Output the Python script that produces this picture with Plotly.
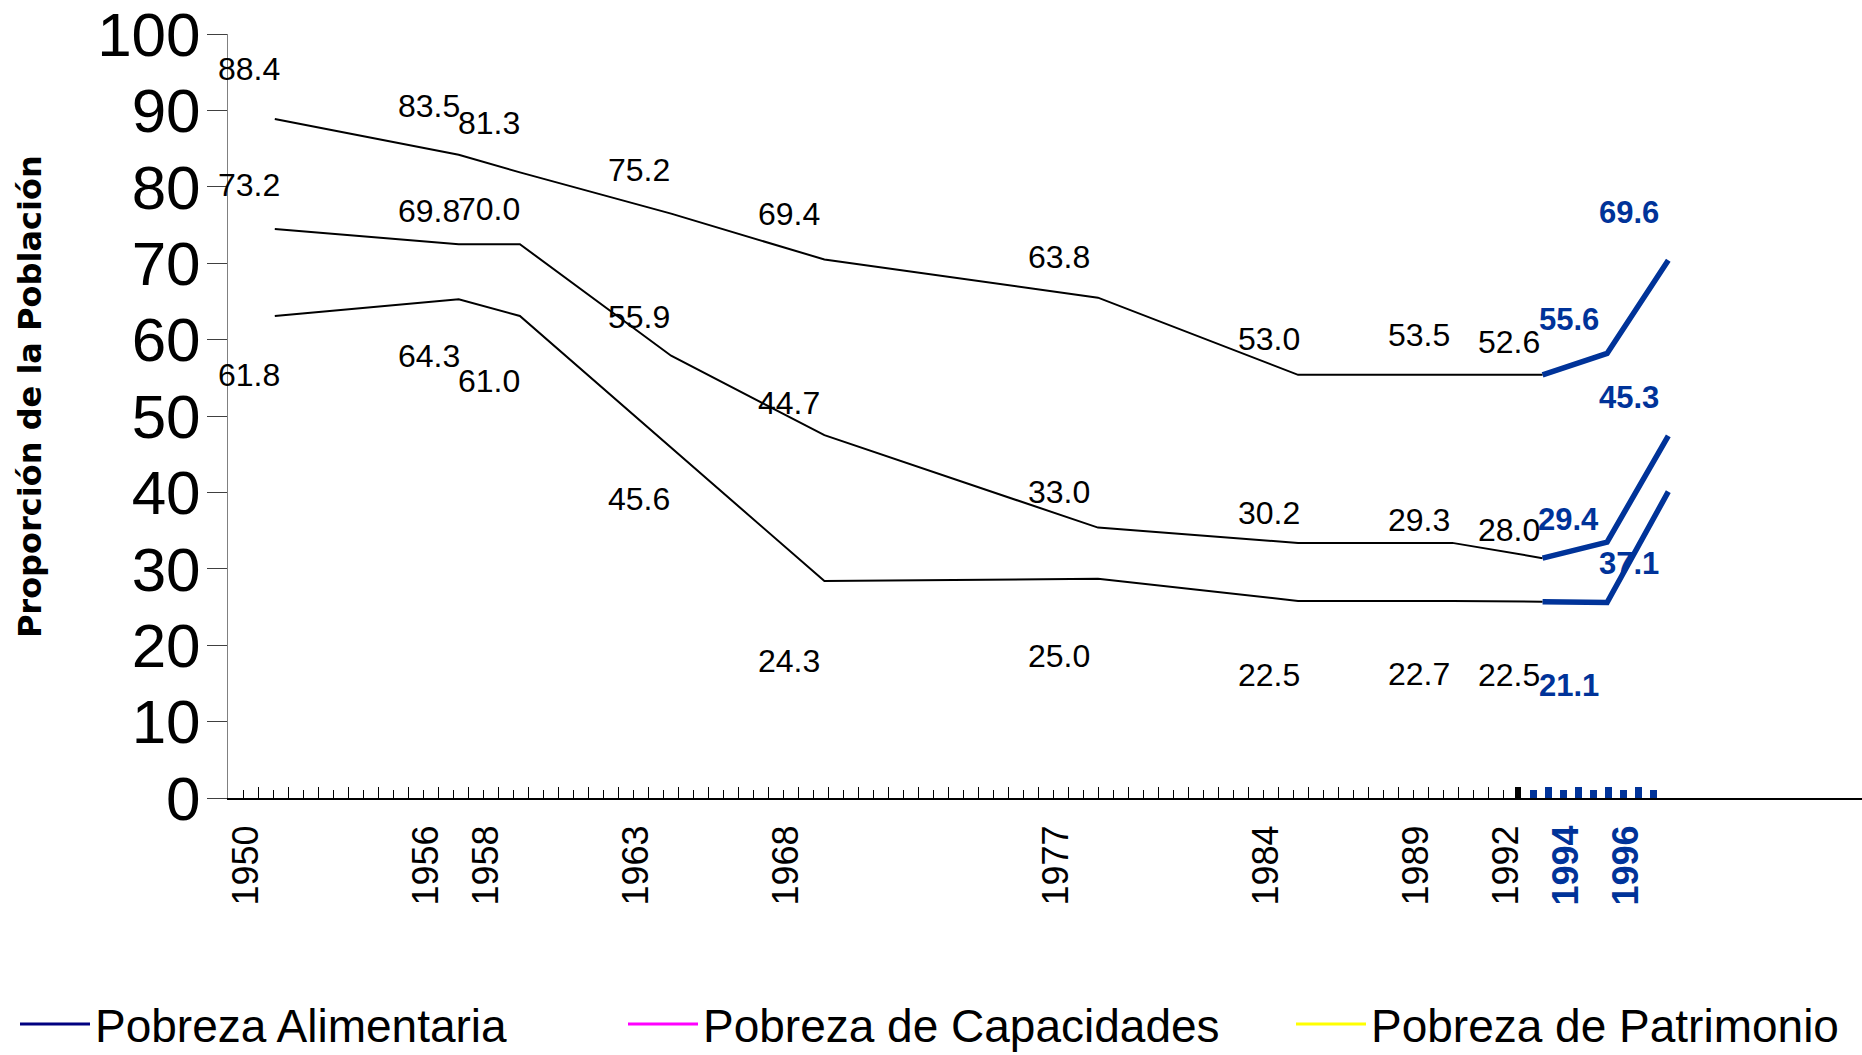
import plotly.graph_objects as go

# ---- data ----
years = [1950, 1956, 1958, 1963, 1968, 1977, 1984, 1989, 1992, 1994, 1996]
year_text = ["1950", "1956", "1958", "1963", "1968", "1977", "1984", "1989", "1992", "1994", "1996"]

# labelled values
patrimonio = [88.4, 83.5, 81.3, 75.2, 69.4, 63.8, 53.0, 53.5, 52.6, 55.6, 69.6]
capacidades = [73.2, 69.8, 70.0, 55.9, 44.7, 33.0, 30.2, 29.3, 28.0, 29.4, 45.3]
alimentaria = [61.8, 64.3, 61.0, 45.6, 24.3, 25.0, 22.5, 22.7, 22.5, 21.1, 37.1]

# positions of the drawn lines as they appear in the picture
line_x = [1950.96, 1957.09, 1959.13, 1964.17, 1969.28, 1978.40, 1985.07, 1990.21, 1993.22, 1995.37, 1997.41]
patrimonio_line = [88.9, 84.2, 81.9, 76.5, 70.5, 65.5, 55.4, 55.4, 55.4, 58.2, 70.4]
capacidades_line = [74.5, 72.5, 72.5, 57.9, 47.5, 35.4, 33.4, 33.4, 31.4, 33.5, 47.4]
alimentaria_line = [63.1, 65.3, 63.1, 45.9, 28.4, 28.7, 25.8, 25.8, 25.7, 25.6, 40.1]

y_ticks = [0, 10, 20, 30, 40, 50, 60, 70, 80, 90, 100]

legend_names = ["Pobreza Alimentaria", "Pobreza de Capacidades", "Pobreza de Patrimonio"]
legend_colors = ["#000080", "#FF00FF", "#FFFF00"]

BLUE = "#003399"
FONT = "Liberation Sans, Arial, sans-serif"
SPLIT = 8  # index from which the series is drawn in blue (1992 onward)
BLUE_FROM = 9  # labels drawn in bold blue (1994, 1996)

fig = go.Figure()

for vals in (patrimonio_line, capacidades_line, alimentaria_line):
    fig.add_trace(go.Scatter(x=line_x[:SPLIT + 1], y=vals[:SPLIT + 1], mode="lines",
                             line=dict(color="black", width=2), showlegend=False, hoverinfo="skip"))
    fig.add_trace(go.Scatter(x=line_x[SPLIT:], y=vals[SPLIT:], mode="lines",
                             line=dict(color=BLUE, width=5.5), showlegend=False, hoverinfo="skip"))

# legend-only entries, each in its own legend
legend_keys = ["legend", "legend2", "legend3"]
for name, col, lk in zip(legend_names, legend_colors, legend_keys):
    fig.add_trace(go.Scatter(x=[None], y=[None], mode="lines", name=name,
                             line=dict(color=col, width=3), legend=lk, showlegend=True))

# data labels
annotations = []
for vals, shift in ((patrimonio, 54), (capacidades, 54), (alimentaria, -49)):
    for i, (yr, v) in enumerate(zip(years, vals)):
        blue = i >= BLUE_FROM
        annotations.append(dict(
            x=yr, y=v, xref="x", yref="y", xshift=3, yshift=shift,
            text=(f"<b>{v:.1f}</b>" if blue else f"{v:.1f}"),
            showarrow=False, xanchor="center", yanchor="middle",
            font=dict(family=FONT, size=31 if blue else 32, color=BLUE if blue else "black")))

annotations.append(dict(
    text="<b>Proporción de la Población</b>", textangle=-90,
    xref="paper", yref="paper", x=-0.1212, y=0.526, showarrow=False,
    xanchor="center", yanchor="middle",
    font=dict(family="DejaVu Sans, sans-serif", size=32, color="black")))

ticktext = [(f"<span style='color:{BLUE}'><b>{t}</b></span>" if i >= BLUE_FROM else t)
            for i, t in enumerate(year_text)]

XR = [1949.4, 2003.867]
YR = [0, 100.02]

# small tick marks along the x axis
long_thin = [1950.41 + k for k in range(42)]
short_thin = [1949.91 + k for k in range(43)]
long_blue = [1993.41 + k for k in range(4)]
short_blue = [1992.91 + k for k in range(5)]
thick_black = [1992.41]

legend_common = dict(yref="container", xref="container", y=1 - 1024 / 1055,
                     xanchor="left", yanchor="middle", orientation="h", itemwidth=70,
                     font=dict(family=FONT, size=46, color="black"),
                     bgcolor="rgba(0,0,0,0)", borderwidth=0)

fig.update_layout(
    width=1862, height=1055, autosize=False,
    margin=dict(l=228, r=0, t=32, b=257),
    paper_bgcolor="white", plot_bgcolor="white",
    showlegend=True,
    xaxis=dict(range=XR, tickmode="array", tickvals=years, ticktext=ticktext,
               tickangle=-90, ticks="", showline=True, linecolor="black", linewidth=2,
               showgrid=False, zeroline=False, ticklabelstandoff=11,
               ticklabeloverflow="allow",
               tickfont=dict(family=FONT, size=36, color="black")),
    xaxis3=dict(matches="x", overlaying="x", anchor="y", side="bottom",
                showticklabels=False, showline=False, showgrid=False, zeroline=False,
                tickmode="array", tickvals=long_thin, ticks="inside", ticklen=11,
                tickwidth=1, tickcolor="black",
                minor=dict(tickmode="array", tickvals=short_thin, ticks="inside", ticklen=8,
                           tickwidth=1, tickcolor="black", showgrid=False)),
    xaxis4=dict(matches="x", overlaying="x", anchor="y", side="bottom",
                showticklabels=False, showline=False, showgrid=False, zeroline=False,
                tickmode="array", tickvals=long_blue, ticks="inside", ticklen=11,
                tickwidth=7, tickcolor=BLUE,
                minor=dict(tickmode="array", tickvals=short_blue, ticks="inside", ticklen=8,
                           tickwidth=7, tickcolor=BLUE, showgrid=False)),
    xaxis5=dict(matches="x", overlaying="x", anchor="y", side="bottom",
                showticklabels=False, showline=False, showgrid=False, zeroline=False,
                tickmode="array", tickvals=thick_black, ticks="inside", ticklen=11,
                tickwidth=6, tickcolor="black"),
    yaxis=dict(range=YR, tickmode="array", tickvals=y_ticks, ticks="",
               showline=True, linecolor="#808080",
               linewidth=1, showgrid=False, zeroline=False, ticklabelstandoff=14,
               ticklabeloverflow="allow",
               tickfont=dict(family=FONT, size=62, color="black")),
    yaxis2=dict(matches="y", overlaying="y", anchor="x", side="left",
                tickmode="array", tickvals=y_ticks, ticks="outside", ticklen=20,
                tickwidth=1, tickcolor="#404040", showticklabels=False,
                showline=False, showgrid=False, zeroline=False),
    annotations=annotations,
    legend=dict(x=15 / 1862, **legend_common),
    legend2=dict(x=623 / 1862, **legend_common),
    legend3=dict(x=1291 / 1862, **legend_common),
)

# dummy invisible traces so the extra tick axes are rendered
for xa, ya in (("x3", "y"), ("x4", "y"), ("x5", "y"), ("x", "y2")):
    fig.add_trace(go.Scatter(x=[None], y=[None], xaxis=xa, yaxis=ya, showlegend=False,
                             hoverinfo="skip"))

fig.write_html("out.html", config={"displayModeBar": False},
               post_script="document.body.style.margin='0px';")
